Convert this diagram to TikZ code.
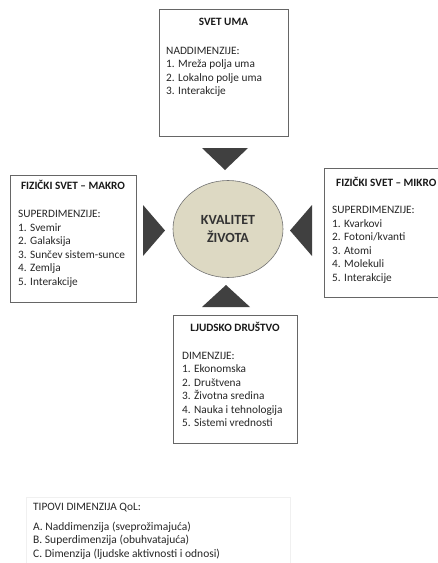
\documentclass[tikz,border=0pt]{standalone}
\usepackage{fontspec}
\setmainfont{Carlito}
\usetikzlibrary{shapes.geometric}
\begin{document}
\begin{tikzpicture}[x=1pt,y=-1pt,
  box/.style={draw=black!60, line width=0.8pt, fill=white, inner sep=0pt},
  ttl/.style={font=\fontsize{11.2}{12}\selectfont\bfseries, text=black!90, inner sep=0pt},
  lst/.style={font=\fontsize{11.3}{13.5}\selectfont, text=black!85, align=left, anchor=north west, inner sep=0pt},
  tri/.style={fill=black!75, draw=none},
  core/.style={ellipse, draw=black!55, line width=0.6pt, fill=qolfill, minimum width=110pt, minimum height=97pt, inner sep=0pt, font=\fontsize{14}{18}\selectfont\bfseries, text=black!80, align=center}
]
\definecolor{qolfill}{HTML}{DDD9C3}
\useasboundingbox (0,0) rectangle (438,563);
% boxes
\node[box, minimum width=129pt, minimum height=127pt] (top) at (223.5,73) {};
\node[box, minimum width=126pt, minimum height=127pt] (left) at (73,238.5) {};
\node[box, minimum width=114pt, minimum height=129pt] (right) at (381,232.5) {};
\node[box, minimum width=124pt, minimum height=128pt] (bottom) at (235,379) {};
% titles
\node[ttl] (toptitle) at (top.center |- 0,22) {SVET UMA};
\node[ttl] (lefttitle) at (left.center |- 0,185) {FIZIČKI SVET – MAKRO};
\node[ttl, anchor=west] (righttitle) at (336,182) {FIZIČKI SVET – MIKRO};
\node[ttl] (bottomtitle) at (bottom.center |- 0,327) {LJUDSKO DRUŠTVO};
% lists
\node[lst] (toplist) at (166,47) {NADDIMENZIJE:\\1. Mreža polja uma\\2. Lokalno polje uma\\3. Interakcije};
\node[lst] (leftlist) at (18,210) {SUPERDIMENZIJE:\\1. Svemir\\2. Galaksija\\3. Sunčev sistem-sunce\\4. Zemlja\\5. Interakcije};
\node[lst] (rightlist) at (332,206) {SUPERDIMENZIJE:\\1. Kvarkovi\\2. Fotoni/kvanti\\3. Atomi\\4. Molekuli\\5. Interakcije};
\node[lst] (bottomlist) at (182,352) {DIMENZIJE:\\1. Ekonomska\\2. Društvena\\3. Životna sredina\\4. Nauka i tehnologija\\5. Sistemi vrednosti};
% centre
\node[core] (qol) at (228,229) {KVALITET\\ŽIVOTA};
% arrows (triangles)
\fill[tri] (202,148) -- (248,148) -- (225,170) -- cycle;
\fill[tri] (202,307) -- (250,307) -- (226,285) -- cycle;
\fill[tri] (143,205) -- (143,256) -- (165,230.5) -- cycle;
\fill[tri] (312,205) -- (312,256) -- (290,230.5) -- cycle;
% legend
\node[draw=black!6, line width=0.6pt, minimum width=264pt, minimum height=70pt, inner sep=0pt] (legend) at (158,532) {};
\node[lst, font=\fontsize{11.3}{13}\selectfont] (legendtitle) at (33,503) {TIPOVI DIMENZIJA QoL:};
\node[lst, font=\fontsize{11.5}{13.5}\selectfont] (legendlist) at (33,521.5) {A. Naddimenzija (sveprožimajuća)\\B. Superdimenzija (obuhvatajuća)\\C. Dimenzija (ljudske aktivnosti i odnosi)};
\end{tikzpicture}
\end{document}
